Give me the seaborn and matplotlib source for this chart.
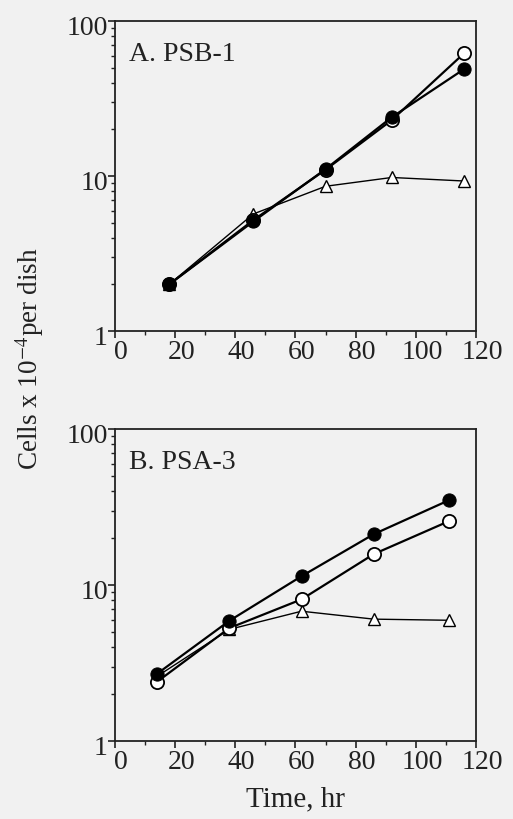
import numpy as np
import pandas as pd
import matplotlib
matplotlib.use("Agg")
import matplotlib.pyplot as plt
import matplotlib.ticker as mticker
import matplotlib.transforms as mtransforms
import seaborn as sns

# Panel A: PSB-1
a_time = [18, 46, 70, 92, 116]
a_filled = [2.0, 5.1, 11.1, 24.0, 49.0]
a_open = [2.0, 5.2, 11.0, 23.0, 62.0]
a_tri = [2.0, 5.7, 8.6, 9.8, 9.3]

# Panel B: PSA-3
b_time = [14, 38, 62, 86, 111]
b_filled = [2.7, 5.9, 11.4, 21.2, 35.0]
b_open = [2.4, 5.3, 8.1, 15.8, 25.7]
b_tri = [2.6, 5.2, 6.8, 6.05, 5.95]

panel_titles = ["A. PSB-1", "B. PSA-3"]
x_ticks = [0, 20, 40, 60, 80, 100, 120]
y_ticks = [1, 10, 100]
y_tick_labels = ["1", "10", "100"]

sns.set_style("ticks")
plt.rcParams['font.family'] = ['Liberation Serif', 'DejaVu Serif']
plt.rcParams['mathtext.fontset'] = 'stix'

bg = '#f1f1f1'
ink = '#222222'
fig = plt.figure(figsize=(5.13, 8.20), dpi=100, facecolor=bg)
ax1 = fig.add_axes([0.224, 0.595, 0.704, 0.378])
ax2 = fig.add_axes([0.224, 0.095, 0.704, 0.3805])

panels = [
    (ax1, a_time, a_filled, a_open, a_tri),
    (ax2, b_time, b_filled, b_open, b_tri),
]

for i, (ax, t, f, o, tr) in enumerate(panels):
    ax.set_facecolor(bg)
    sns.lineplot(x=t, y=tr, ax=ax, color='black', linewidth=1.0,
                 marker='^', markersize=9, markerfacecolor='white',
                 markeredgecolor='black', markeredgewidth=1.0, zorder=3)
    sns.lineplot(x=t, y=o, ax=ax, color='black', linewidth=1.6,
                 marker='o', markersize=9.5, markerfacecolor='white',
                 markeredgecolor='black', markeredgewidth=1.3, zorder=4)
    sns.lineplot(x=t, y=f, ax=ax, color='black', linewidth=1.6,
                 marker='o', markersize=9.5, markerfacecolor='black',
                 markeredgecolor='black', zorder=5)
    ax.set_yscale('log')
    ax.set_ylim(1, 100)
    ax.set_xlim(0, 120)
    ax.set_xticks(x_ticks)
    ax.xaxis.set_minor_locator(mticker.MultipleLocator(10))
    ax.set_yticks(y_ticks)
    ax.set_yticklabels(y_tick_labels)
    ax.yaxis.set_minor_locator(mticker.LogLocator(base=10, subs=np.arange(2, 10)))
    ax.yaxis.set_minor_formatter(mticker.NullFormatter())
    ax.tick_params(axis='both', which='major', direction='out', length=5,
                   width=1.2, labelsize=20, colors=ink)
    ax.tick_params(axis='x', which='major', pad=1)
    ax.tick_params(axis='y', which='major', pad=0)
    ax.tick_params(axis='both', which='minor', direction='out', length=3, width=1.0, colors=ink)
    # slight offsets of tick labels as in the printed figure
    off = mtransforms.ScaledTranslation(6 / 100, 0, fig.dpi_scale_trans)
    for lab in ax.get_xticklabels():
        lab.set_transform(lab.get_transform() + off)
    off_y = mtransforms.ScaledTranslation(0, -3 / 100, fig.dpi_scale_trans)
    for lab in ax.get_yticklabels():
        lab.set_transform(lab.get_transform() + off_y)
    for sp in ax.spines.values():
        sp.set_linewidth(1.3)
        sp.set_color(ink)
    ax.text(0.04, 0.895, panel_titles[i], transform=ax.transAxes,
            fontsize=20, va='center', ha='left', color=ink)
    ax.set_xlabel("")
    ax.set_ylabel("")

ax2.set_xlabel("Time, hr", fontsize=21, labelpad=8, color=ink)
fig.text(0.058, 0.562, r"Cells x 10$^{-4}$per dish", rotation=90,
         fontsize=19.5, ha='center', va='center', color=ink)

fig.savefig("out.png", dpi=100, facecolor=bg)
